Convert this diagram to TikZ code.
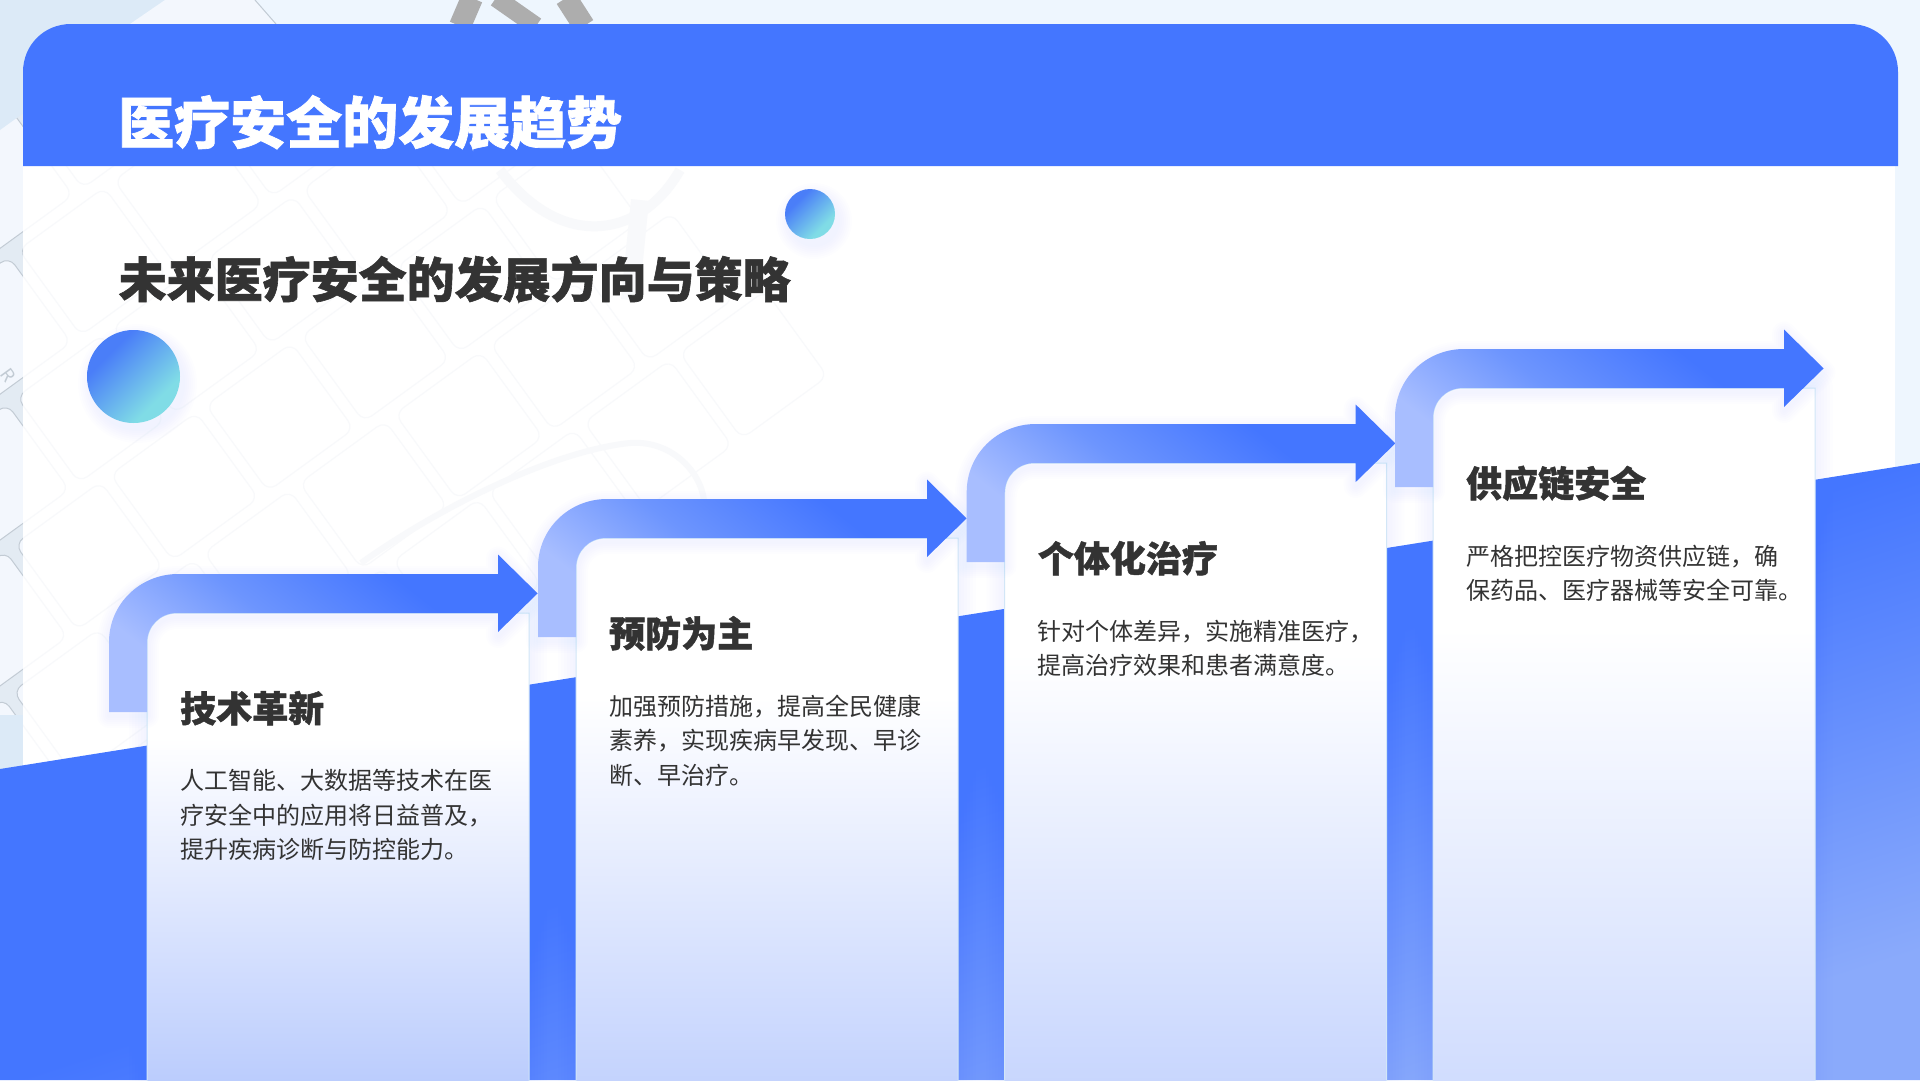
\documentclass[tikz,border=0pt]{standalone}
\usepackage{fontspec}
\setmainfont{Noto Sans CJK SC}
\newfontfamily\headfont[BoldFeatures={FakeBold=1.2}]{Noto Sans CJK SC}
\usetikzlibrary{positioning}

\definecolor{mainblue}{HTML}{4476FF}
\definecolor{lightblue}{HTML}{8AAAFB}
\definecolor{pageblue}{HTML}{EEF6FE}
\definecolor{cornerblue}{HTML}{DCEAF7}
\definecolor{platecol}{HTML}{E3EBF3}
\definecolor{keycol}{HTML}{F3F7FD}
\definecolor{keyline}{HTML}{C2CBD4}
\definecolor{faintline}{HTML}{F8F9FB}
\definecolor{inkcol}{HTML}{333333}
\definecolor{cardend}{HTML}{B9CBFD}
\definecolor{cardline}{HTML}{D2E6F7}
\definecolor{tailcol}{HTML}{A8BEFF}
\definecolor{bendcol}{HTML}{6D95FE}
\definecolor{circA}{HTML}{4A7EF8}
\definecolor{circB}{HTML}{80DCE6}

\pgfdeclareverticalshading{cardfade}{100bp}{color(0bp)=(cardend); color(25bp)=(cardend); color(62bp)=(white); color(100bp)=(white)}
\pgfdeclarehorizontalshading{arrowfade}{100bp}{color(0bp)=(tailcol); color(28bp)=(tailcol); color(46bp)=(bendcol); color(66bp)=(mainblue); color(100bp)=(mainblue)}
\pgfdeclarehorizontalshading{floorfade}{100bp}{color(0bp)=(mainblue); color(50bp)=(mainblue); color(75bp)=(lightblue); color(100bp)=(lightblue)}
\pgfdeclarehorizontalshading{circfade}{100bp}{color(0bp)=(circA); color(32bp)=(circA); color(68bp)=(circB); color(100bp)=(circB)}

\tikzset{
	headtext/.style={inner sep=0pt, anchor=base west, font=\headfont\bfseries\fontsize{56}{60}\selectfont, text=white},
	subtext/.style={inner sep=0pt, anchor=base west, font=\headfont\bfseries\fontsize{48}{52}\selectfont, text=inkcol},
	cardtitle/.style={inner sep=0pt, anchor=base west, font=\headfont\bfseries\fontsize{36}{40}\selectfont, text=inkcol},
	cardbody/.style={inner sep=0pt, anchor=north west, align=left, font=\fontsize{24}{34.5}\selectfont, text=inkcol},
	keybox/.style={draw=keyline, fill=keycol, line width=1pt, rounded corners=10pt},
	faintbox/.style={draw=faintline, line width=1.2pt, rounded corners=10pt},
	softline/.style={draw=#1, line join=round, opacity=0.007}
}

% rows of keys, in the style given
\newcommand{\keygrid}[1]{
	\begin{scope}[shift={(0,105)}, rotate=36]
		\foreach \i in {-4,...,3} {
			\foreach \j in {0,...,5} {
				\draw[#1] (\i*118+\j*30-100,\j*118+10) rectangle ++(106,106);
			}
		}
	\end{scope}
}

% x, y of the card's top left corner, where its fade ends, name, title, body
\newcommand{\stepcard}[6]{
	\pgfmathsetmacro{\SCxa}{#1}
	\pgfmathsetmacro{\SCxb}{#1+382}
	\pgfmathsetmacro{\SCya}{#2}
	\pgfmathsetmacro{\SCtail}{#2+99}
	\pgfmathsetmacro{\SCout}{#1-38}
	\pgfmathsetmacro{\SCtop}{#2-39}
	\pgfmathsetmacro{\SChead}{#1+351}
	\def\SCcard{(\SCxa,#3) -- (\SCxa,\SCya+30) .. controls (\SCxa,\SCya+13) and (\SCxa+13,\SCya) .. (\SCxa+30,\SCya) -- (\SCxb,\SCya) -- (\SCxb,#3) -- cycle}
	\def\SCarrow{(\SCout,\SCtail) -- (\SCout,\SCya+29) .. controls (\SCout,\SCya-9) and (\SCxa-7,\SCtop) .. (\SCxa+31,\SCtop) -- (\SChead,\SCtop) -- (\SChead,\SCya-58.5) -- (\SCxa+390.6,\SCya-19.6) -- (\SChead,\SCya+19) -- (\SChead,\SCya) -- (\SCxa+30,\SCya) .. controls (\SCxa+13,\SCya) and (\SCxa,\SCya+13) .. (\SCxa,\SCya+30) -- (\SCxa,\SCtail) -- cycle}
	\foreach \w in {6,12,...,36} {
		\draw[softline=mainblue, line width=\w pt] \SCcard;
	}
	\path[shading=cardfade, draw=cardline, line width=1pt] \SCcard;
	\begin{scope}[yshift=-4pt]
		\foreach \w in {4,8,...,24} {
			\draw[softline=mainblue, line width=\w pt] \SCarrow;
		}
	\end{scope}
	\path[shading=arrowfade, shading angle=52] \SCarrow;
	\node[cardtitle] (#4title) at (\SCxa+33,\SCya+109) {#5};
	\node[cardbody] (#4body) at (\SCxa+33,\SCya+156.5) {#6};
}

% x, y, radius
\newcommand{\softball}[3]{
	\foreach \w in {1,3,...,13} {
		\fill[mainblue, opacity=0.008] (#1+4,#2+7) circle (#3+\w);
	}
	\path[shading=circfade, shading angle=-45] (#1,#2) circle (#3);
}

\begin{document}
\begin{tikzpicture}[x=1pt,y=-1pt]
\useasboundingbox (0,0) rectangle (1920,1080);
\clip (0,0) rectangle (1920,1080);

% page and the keyboard behind it
\fill[pageblue] (0,0) rectangle (1920,1080);
\begin{scope}[shift={(0,105)}, rotate=36]
	\fill[platecol] (-420,0) rectangle (450,700);
\end{scope}
\keygrid{keybox}
\fill[pageblue] (0,0) rectangle (1920,24);
\fill[cornerblue] (0,0) -- (180,0) -- (0,130) -- cycle;
\fill[keycol] (130,24) -- (165,0) -- (255,0) -- (276,24) -- cycle;
\draw[keyline, line width=1pt] (255,0) -- (276,24);
\fill[cornerblue] (0,715) rectangle (23,775);
\node[rotate=-54, text=keyline, font=\fontsize{18}{18}\selectfont] (keyletter) at (8,375) {R};

% stethoscope
\begin{scope}[draw=black!32]
	\draw[line width=22pt] (460,26) -- (472,-2);
	\draw[line width=18pt] (496,-2) -- (536,26);
	\draw[line width=22pt] (566,-2) -- (584,26);
\end{scope}

% white sheet and header band
\fill[white] (23,166) rectangle (1895,1080);
\begin{scope}
	\clip (23,166) rectangle (1895,1080);
	\keygrid{faintbox}
	\begin{scope}[draw=faintline]
		\draw[line width=10pt] (500,170) .. controls (560,250) and (640,240) .. (680,170);
		\draw[line width=18pt] (640,200) -- (630,300);
		\draw[line width=6pt] (361,563) .. controls (450,500) and (560,450) .. (630,443) .. controls (670,440) and (700,470) .. (704,500);
	\end{scope}
\end{scope}
\fill[mainblue] (23,166) -- (23,72) .. controls (23,45) and (44,24) .. (71,24) -- (1850,24) .. controls (1877,24) and (1898,45) .. (1898,72) -- (1898,166) -- cycle;

\node[headtext] (headline) at (118,143.5) {医疗安全的发展趋势};
\node[subtext] (subline) at (118.5,297.5) {未来医疗安全的发展方向与策略};

\softball{810}{214}{25}
\softball{133.5}{376.5}{46.5}

% floor
\path[shading=floorfade, shading angle=-72] (0,769) -- (1920,463) -- (1920,1080) -- (0,1080) -- cycle;

\stepcard{147}{613}{1091}{tech}{技术革新}{人工智能、大数据等技术在医\\疗安全中的应用将日益普及，\\提升疾病诊断与防控能力。}
\stepcard{576}{538}{1150}{prev}{预防为主}{加强预防措施，提高全民健康\\素养，实现疾病早发现、早诊\\断、早治疗。}
\stepcard{1004.7}{463}{1198}{pers}{个体化治疗}{针对个体差异，实施精准医疗，\\提高治疗效果和患者满意度。}
\stepcard{1433}{388}{1312}{chain}{供应链安全}{严格把控医疗物资供应链，确\\保药品、医疗器械等安全可靠。}
\end{tikzpicture}
\end{document}
